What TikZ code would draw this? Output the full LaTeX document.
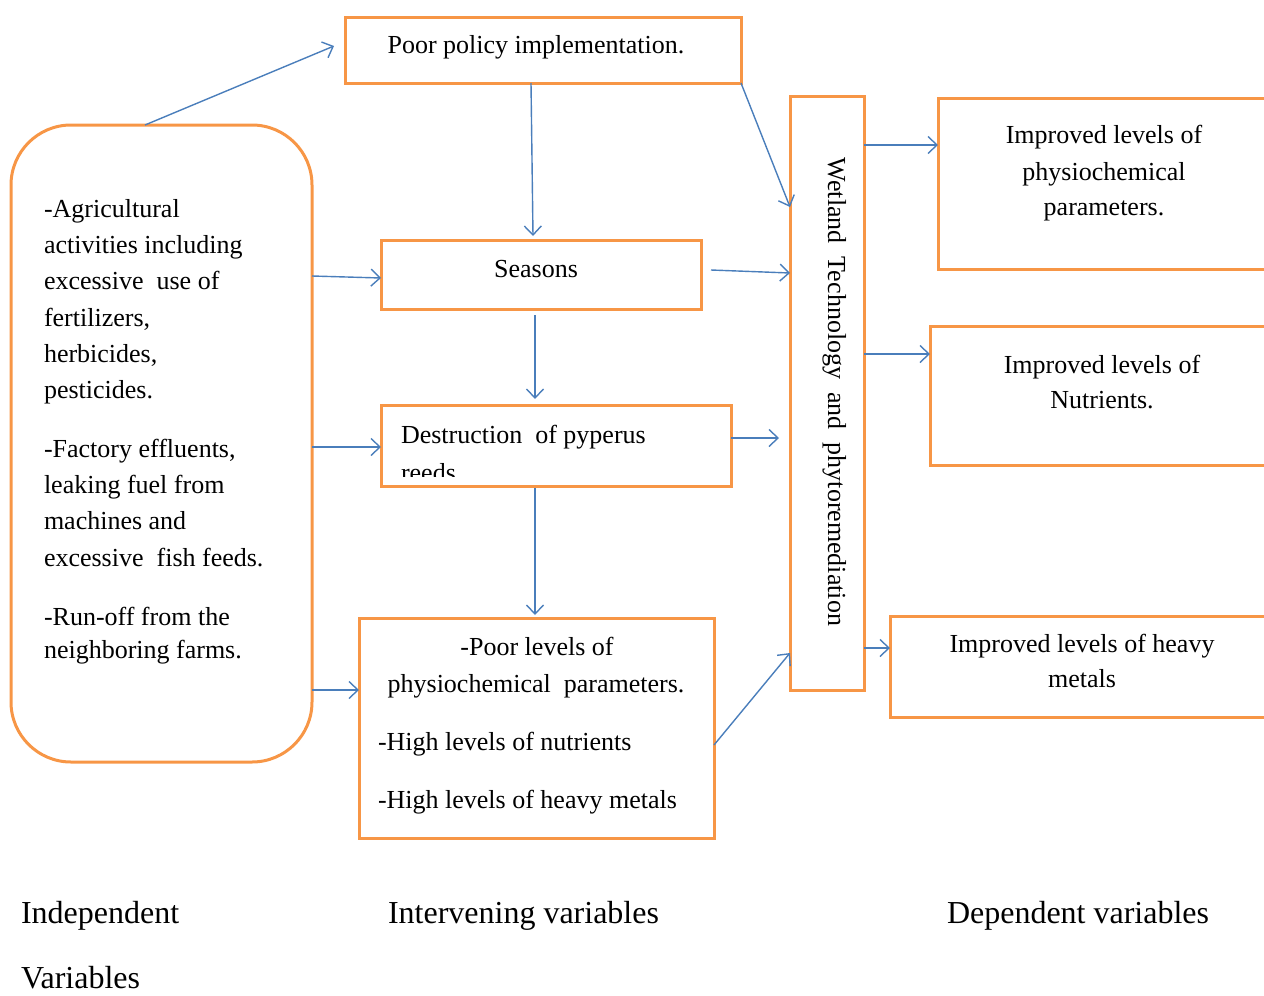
\documentclass[tikz,border=0pt]{standalone}
\usepackage{fontspec}
\setmainfont{Liberation Serif}
\usetikzlibrary{arrows.meta}
\definecolor{boxorange}{HTML}{F79646}
\definecolor{arrowblue}{HTML}{4A7EBB}
\begin{document}
\begin{tikzpicture}[x=1pt,y=-1pt,
  box/.style={draw=boxorange, line width=3pt, rectangle, inner sep=0pt, outer sep=0pt, anchor=north west},
  txt/.style={font=\fontsize{26}{30}\selectfont, inner sep=0pt, outer sep=0pt},
  lbl/.style={font=\fontsize{32}{36}\selectfont, inner sep=0pt, outer sep=0pt, anchor=base west},
  arr/.style={draw=arrowblue, line width=1.4pt, -{Straight Barb[length=9pt,width=17pt,line width=1.4pt]}}]
\useasboundingbox (0,0) rectangle (1264,996);
\clip (0,0) rectangle (1264,996);

% boxes
\node[box, minimum width=396pt, minimum height=66pt] (pol) at (345,17) {};
\node[box, minimum width=301pt, minimum height=637pt, rounded corners=60pt] (left) at (11,125) {};
\node[box, minimum width=320pt, minimum height=69pt] (sea) at (381,240) {};
\node[box, minimum width=350pt, minimum height=81pt] (des) at (381,405) {};
\node[box, minimum width=355pt, minimum height=220pt] (plv) at (359,618) {};
\node[box, minimum width=74pt, minimum height=594pt] (wet) at (790,96) {};
\node[box, minimum width=342pt, minimum height=171pt] (r1) at (938,98) {};
\node[box, minimum width=350pt, minimum height=139pt] (r2) at (930,326) {};
\node[box, minimum width=390pt, minimum height=101pt] (r3) at (890,616) {};

% texts
\node[txt, anchor=base] (tpol) at (536,53) {Poor policy implementation.};
\node[txt, anchor=base] (tsea) at (536,277) {Seasons};
\node[txt, anchor=base west] (tdes) at (401,443) {Destruction\ \ of pyperus};
\begin{scope}
\clip (382,400) rectangle (730,476);
\node[txt, anchor=base west] (treeds) at (401,481) {reeds};
\end{scope}
\node[txt, anchor=base] (tp1) at (537,655) {-Poor levels of};
\node[txt, anchor=base] (tp2) at (536,692) {physiochemical\ \ parameters.};
\node[txt, anchor=base west] (tp3) at (378,750) {-High levels of nutrients};
\node[txt, anchor=base west] (tp4) at (378,808) {-High levels of heavy metals};

\foreach \t/\y [count=\i] in {{-Agricultural}/217, {activities including}/253, {excessive\ \ use of}/289,
  {fertilizers,}/326, {herbicides,}/362, {pesticides.}/398,
  {-Factory effluents,}/457, {leaking fuel from}/493, {machines and}/529, {excessive\ \ fish feeds.}/566,
  {-Run-off from the}/625, {neighboring farms.}/658}
  \node[txt, anchor=base west] (tl\i) at (44,\y) {\t};

\node[txt, anchor=base, rotate=-90] (twet) at (828,392) {Wetland\ \ Technology\ \ and\ \ phytoremediation};

\node[txt, anchor=base] (tr1a) at (1104,143) {Improved levels of};
\node[txt, anchor=base] (tr1b) at (1104,180) {physiochemical};
\node[txt, anchor=base] (tr1c) at (1104,215) {parameters.};
\node[txt, anchor=base] (tr2a) at (1102,373) {Improved levels of};
\node[txt, anchor=base] (tr2b) at (1102,408) {Nutrients.};
\node[txt, anchor=base] (tr3a) at (1082,652) {Improved levels of heavy};
\node[txt, anchor=base] (tr3b) at (1082,687) {metals};

\node[lbl] (lind) at (21,923) {Independent};
\node[lbl] (lvar) at (21,988) {Variables};
\node[lbl] (lint) at (388,923) {Intervening variables};
\node[lbl] (ldep) at (947,923) {Dependent variables};

% arrows
\draw[arr] ([xshift=134pt]left.north west) -- ([xshift=-11pt,yshift=-29pt]pol.north west);
\draw[arr] ([xshift=186pt]pol.south west) -- ([xshift=152pt,yshift=4pt]sea.north west);
\draw[arr] (pol.south east) -- ([yshift=-111pt]wet.north west);
\draw[arr] ([yshift=-151pt]left.north east) -- ([yshift=-38pt]sea.north west);
\draw[arr] ([xshift=10pt,yshift=-30pt]sea.north east) -- ([yshift=-177pt]wet.north west);
\draw[arr] ([xshift=154pt,yshift=-6pt]sea.south west) -- ([xshift=154pt,yshift=6pt]des.north west);
\draw[arr] ([yshift=-322pt]left.north east) -- ([yshift=-42pt]des.north west);
\draw[arr] ([yshift=-33pt]des.north east) -- ([xshift=-11pt,yshift=-342pt]wet.north west);
\draw[arr] ([xshift=154pt,yshift=-2pt]des.south west) -- ([xshift=176pt,yshift=3pt]plv.north west);
\draw[arr] ([yshift=-565pt]left.north east) -- ([yshift=-72pt]plv.north west);
\draw[arr] ([yshift=-127pt]plv.north east) -- ([yshift=37pt]wet.south west);
\draw[arr] ([yshift=-49pt]wet.north east) -- ([yshift=-47pt]r1.north west);
\draw[arr] ([yshift=-258pt]wet.north east) -- ([yshift=-28pt]r2.north west);
\draw[arr] ([yshift=-552pt]wet.north east) -- ([yshift=-32pt]r3.north west);
\end{tikzpicture}
\end{document}
